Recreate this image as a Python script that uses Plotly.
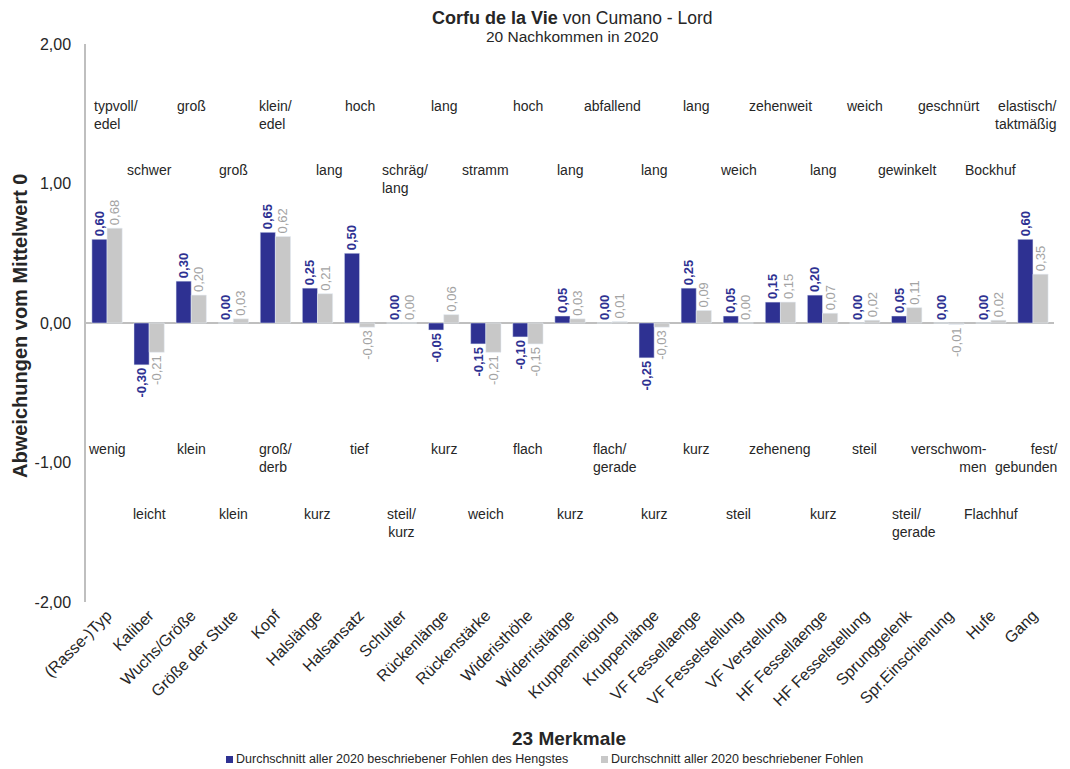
import plotly.graph_objects as go

# Merkmale (categories) and the two series of deviations from the mean
merkmale = [
    "(Rasse-)Typ", "Kaliber", "Wuchs/Größe", "Größe der Stute", "Kopf",
    "Halslänge", "Halsansatz", "Schulter", "Rückenlänge", "Rückenstärke",
    "Wideristhöhe", "Widerristlänge", "Kruppenneigung", "Kruppenlänge",
    "VF Fessellaenge", "VF Fesselstellung", "VF Verstellung", "HF Fessellaenge",
    "HF Fesselstellung", "Sprunggelenk", "Spr.Einschienung", "Hufe", "Gang",
]
hengst = [0.60, -0.30, 0.30, 0.00, 0.65, 0.25, 0.50, 0.00, -0.05, -0.15,
          -0.10, 0.05, 0.00, -0.25, 0.25, 0.05, 0.15, 0.20, 0.00, 0.05,
          0.00, 0.00, 0.60]
alle = [0.68, -0.21, 0.20, 0.03, 0.62, 0.21, -0.03, 0.00, 0.06, -0.21,
        -0.15, 0.03, 0.01, -0.03, 0.09, 0.00, 0.15, 0.07, 0.02, 0.11,
        -0.01, 0.02, 0.35]

y_ticks = [-2, -1, 0, 1, 2]
y_ticktext = ["-2,00", "-1,00", "0,00", "1,00", "2,00"]

name_hengst = "Durchschnitt aller 2020 beschriebener Fohlen des Hengstes"
name_alle = "Durchschnitt aller 2020 beschriebener Fohlen"

titel = "Corfu de la Vie"
titel_zusatz = "von Cumano - Lord"
untertitel = "20 Nachkommen in 2020"
y_titel = "Abweichungen vom Mittelwert 0"
x_titel = "23 Merkmale"

# descriptive pole labels (upper = positive side, lower = negative side)
oben_gerade = ["typvoll/<br>edel", "groß", "klein/<br>edel", "hoch", "lang", "hoch",
               "abfallend", "lang", "zehenweit", "weich", "geschnürt",
               "elastisch/<br>taktmäßig"]
oben_ungerade = ["schwer", "groß", "lang", "schräg/<br>lang", "stramm", "lang",
                 "lang", "weich", "lang", "gewinkelt", "Bockhuf"]
unten_gerade = ["wenig", "klein", "groß/<br>derb", "tief", "kurz", "flach",
                "flach/<br>gerade", "kurz", "zeheneng", "steil",
                "verschwom-<br>men", "fest/<br>gebunden"]
unten_ungerade = ["leicht", "klein", "kurz", "steil/<br>kurz", "weich", "kurz",
                  "kurz", "steil", "kurz", "steil/<br>gerade", "Flachhuf"]

FONT = "Liberation Sans, Arial, sans-serif"
BLUE = "#2E3192"
GREY = "#C8C8C8"
GREY_TXT = "#A3A3A3"
AXIS = "#BFBFBF"
DARK = "#262626"

# plot area in pixels (for placing title, legend and axis titles)
L, R, T, B = 86, 16, 44, 167
W, H = 1070, 769
PW, PH = W - L - R, H - T - B


def px_x(px):
    return (px - L) / PW


def px_y(py):
    return (H - B - py) / PH


def de_format(v):
    # German decimal comma, plain hyphen as minus sign
    return f"{v:.2f}".replace(".", ",")


fig = go.Figure()
fig.add_trace(go.Bar(
    x=merkmale, y=hengst, name=name_hengst, marker_color=BLUE, showlegend=False,
    text=[de_format(v) for v in hengst], texttemplate="<b>%{text}</b>",
    textposition="outside", textangle=-90,
    textfont=dict(color=BLUE, size=13, family=FONT), cliponaxis=False,
    constraintext="none",
))
fig.add_trace(go.Bar(
    x=merkmale, y=alle, name=name_alle, marker_color=GREY, showlegend=False,
    text=[de_format(v) for v in alle], texttemplate="%{text}",
    textposition="outside", textangle=-90,
    textfont=dict(color=GREY_TXT, size=13, family=FONT), cliponaxis=False,
    constraintext="none",
))


def align_for(text):
    if "<br>" not in text:
        return "center"
    if text.startswith(("verschwom", "fest", "elastisch")):
        return "right"
    if text.startswith("steil/<br>kurz"):
        return "center"
    return "left"


# small horizontal nudges (px) for some of the text boxes
nudge = {
    ("oben_gerade", 0): 9, ("oben_gerade", 11): -7,
    ("oben_ungerade", 2): 12, ("oben_ungerade", 3): 3,
    ("unten_gerade", 6): 3, ("unten_gerade", 11): -7,
    ("unten_ungerade", 9): 7,
}

annotations = []
rows = [
    ("oben_gerade", oben_gerade, 0, 1.627),
    ("oben_ungerade", oben_ungerade, 1, 1.168),
    ("unten_gerade", unten_gerade, 0, -0.832),
    ("unten_ungerade", unten_ungerade, 1, -1.297),
]
for row_name, labels, start, ytop in rows:
    for k, text in enumerate(labels):
        annotations.append(dict(
            x=merkmale[start + 2 * k], y=ytop, xref="x", yref="y",
            xshift=nudge.get((row_name, k), 0),
            text=text, showarrow=False, yanchor="top", xanchor="center",
            align=align_for(text),
            font=dict(size=14, color=DARK, family=FONT),
        ))

# chart title (two lines)
annotations.append(dict(
    x=px_x(572), y=px_y(18), xref="paper", yref="paper", xanchor="center", yanchor="middle",
    text=f"<b>{titel}</b> <span style='font-size:17.5px'>{titel_zusatz}</span>",
    showarrow=False, font=dict(size=18, color=DARK, family=FONT),
))
annotations.append(dict(
    x=px_x(572), y=px_y(36), xref="paper", yref="paper", xanchor="center", yanchor="middle",
    text=untertitel, showarrow=False, font=dict(size=15.5, color=DARK, family=FONT),
))

# axis titles
annotations.append(dict(
    x=px_x(20), y=px_y(326), xref="paper", yref="paper", xanchor="center", yanchor="middle",
    text=f"<b>{y_titel}</b>", textangle=-90, showarrow=False,
    font=dict(size=20, color=DARK, family=FONT),
))
annotations.append(dict(
    x=px_x(569), y=px_y(738), xref="paper", yref="paper", xanchor="center", yanchor="middle",
    text=f"<b>{x_titel}</b>", showarrow=False,
    font=dict(size=19, color=DARK, family=FONT),
))

# legend: small colour squares followed by the series names
shapes = []
for (sq_left, color, name) in [(226, BLUE, name_hengst), (601, GREY, name_alle)]:
    shapes.append(dict(
        type="rect", xref="paper", yref="paper",
        x0=px_x(sq_left), x1=px_x(sq_left + 7), y0=px_y(763), y1=px_y(756),
        fillcolor=color, line=dict(width=0),
    ))
    annotations.append(dict(
        x=px_x(sq_left + 8), y=px_y(759), xref="paper", yref="paper",
        xanchor="left", yanchor="middle", text=name, showarrow=False,
        font=dict(size=12.5, color=DARK, family=FONT),
    ))

fig.update_layout(
    width=W, height=H,
    margin=dict(l=L, r=R, t=T, b=B),
    paper_bgcolor="white", plot_bgcolor="white",
    font=dict(family=FONT, color=DARK),
    barmode="group", bargap=0.28, bargroupgap=0.0,
    showlegend=False,
    xaxis=dict(
        range=[-0.5, len(merkmale) - 0.5],
        tickangle=-45, showline=False, showgrid=False, ticks="",
        tickfont=dict(size=16, color=DARK, family=FONT), automargin=False,
    ),
    yaxis=dict(
        range=[-2, 2], tickvals=y_ticks, ticktext=y_ticktext, showgrid=False,
        showline=True, linecolor=AXIS, linewidth=1.5,
        zeroline=True, zerolinecolor=AXIS, zerolinewidth=1.5,
        tickfont=dict(size=16, color=DARK, family=FONT), automargin=False,
        ticks="", ticklabelstandoff=10,
    ),
    annotations=annotations,
    shapes=shapes,
)

fig.write_html("out.html")
